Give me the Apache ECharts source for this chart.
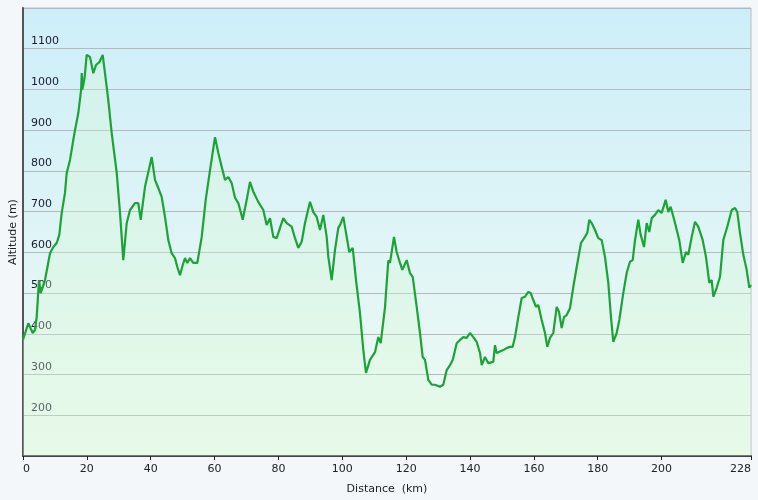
<!DOCTYPE html>
<html><head><meta charset="utf-8">
<script src="https://cdn.jsdelivr.net/npm/echarts@6/dist/echarts.min.js"></script>
<style>html,body{margin:0;padding:0;background:#f3f7fa;}#c{width:758px;height:500px;}</style>
</head><body><div id="c"></div>
<script>
const distanceKm = [0,1.66,3.04,3.76,4.29,5.01,5.54,6.89,8.46,9.49,10.55,11.37,12.12,13.15,13.69,14.72,15.75,16.29,17.32,18.2,18.4,18.6,19.3,19.95,20.98,22.02,22.86,23.9,24.96,25.68,26.71,27.78,29.35,30.38,31.41,32.48,33.51,35.08,36.11,36.86,38.21,40.31,41.34,42.37,43.44,44.47,45.51,46.57,47.6,48.32,49.17,50.02,50.74,51.46,52.3,53.33,54.59,55.97,57.22,58.57,60.13,61.17,62.23,63.26,64.3,65.36,66.4,67.43,68.81,70.06,71.09,72.13,73.69,75.26,76.32,77.36,78.39,79.45,80.49,81.52,82.59,84.15,85.19,86.22,87.28,88.32,89.88,90.92,91.98,93.02,94.05,95.11,95.62,96.68,97.71,98.75,99.28,100.31,101.38,102.19,103.26,104.29,105.54,106.58,107.42,108.67,110.24,111.27,112.03,113.37,114.4,114.94,116.19,117.03,118.07,118.79,120.17,121.2,122.05,123.3,124.33,125.18,125.9,126.94,128.0,129.03,130.6,131.63,132.7,133.73,134.58,135.83,136.86,137.9,138.96,139.99,141.03,142.09,143.13,143.66,144.69,145.73,147.29,147.82,148.35,150.42,151.49,152.52,153.36,154.09,155.12,156.18,157.22,158.25,159.0,159.82,160.66,161.38,162.45,163.48,164.2,165.05,166.08,166.61,167.15,167.87,168.71,169.43,170.28,171.31,172.35,173.41,174.76,176.01,176.73,177.36,178.11,179.14,180.18,181.24,182.27,183.31,184.15,184.87,185.94,186.75,188.0,189.07,190.1,190.95,191.67,192.7,193.45,194.49,195.33,196.15,196.9,197.93,198.97,200.03,201.28,202.1,202.85,204.2,205.54,206.61,207.64,208.36,209.43,210.46,211.49,212.87,213.9,214.94,215.69,216.19,217.26,218.29,219.32,220.57,221.95,222.99,223.71,224.55,225.59,226.65,227.47,228];
const altitudeM = [385,426,402,410,441,532,500,532,598,613,623,643,697,746,795,827,876,900,942,999,1040,1000,1030,1085,1080,1040,1060,1067,1085,1040,974,893,795,697,581,672,704,721,721,680,761,834,778,758,736,687,630,598,586,564,544,569,586,574,586,574,574,638,729,802,883,844,810,778,785,770,734,721,680,729,773,749,724,704,667,684,638,635,660,684,672,663,635,611,626,672,724,699,687,655,692,638,589,532,606,660,667,687,638,601,611,532,451,360,304,336,355,392,377,465,580,574,638,601,574,557,581,549,540,466,402,343,336,287,275,275,270,275,311,323,336,377,385,392,390,402,392,380,353,323,343,328,331,372,353,360,365,368,368,392,441,488,491,503,500,483,466,471,434,402,368,390,402,434,466,454,414,441,446,463,515,564,623,638,648,680,672,655,635,630,589,525,441,380,402,434,500,550,577,581,630,680,643,613,672,650,684,692,704,697,729,699,712,672,630,574,601,594,638,675,663,630,589,525,532,491,513,540,630,663,704,709,699,648,594,557,513,520];
const xTickLabels = [0,20,40,60,80,100,120,140,160,180,200,228];
const yTickLabels = [200,300,400,500,600,700,800,900,1000,1100];

const points = distanceKm.map((d,i)=>[d, altitudeM[i]]);
const chart = echarts.init(document.getElementById('c'));
const font = 'DejaVu Sans, Verdana, sans-serif';
chart.setOption({
  animation:false,
  backgroundColor:'#f3f7fa',
  grid:{left:23,right:7,top:8,bottom:44,outerBoundsMode:'none',containLabel:false,show:true,borderColor:'#b8bec4',borderWidth:1,
    backgroundColor:new echarts.graphic.LinearGradient(0,0,0,1,[{offset:0,color:'#cdeef9'},{offset:0.55,color:'#e0f5f6'},{offset:1,color:'#f0fbf2'}])},
  xAxis:{type:'value',min:0,max:228,
    name:'Distance  (km)',nameLocation:'middle',nameGap:28,
    nameTextStyle:{fontFamily:font,fontSize:11,color:'#222'},
    axisLine:{show:true,lineStyle:{color:'#444',width:2}},
    axisTick:{show:true,length:4,lineStyle:{color:'#222'},customValues:xTickLabels},
    axisLabel:{fontFamily:font,fontSize:11,color:'#222',margin:8,customValues:xTickLabels,alignMinLabel:'left',alignMaxLabel:'right'},
    splitLine:{show:false}},
  yAxis:{type:'value',min:100,max:1200,interval:100,
    name:'Altitude (m)',nameLocation:'middle',nameGap:4,nameRotate:90,nameMoveOverlap:false,
    nameTextStyle:{fontFamily:font,fontSize:11,color:'#222'},
    axisLine:{show:true,lineStyle:{color:'#555',width:2}},
    axisTick:{show:false},
    axisLabel:{inside:true,margin:8,align:'left',verticalAlign:'bottom',padding:[0,0,2,0],
      fontFamily:font,fontSize:11,color:'#1a1a30',
      formatter:v=>yTickLabels.indexOf(v)>=0?String(v):''},
    splitLine:{show:true,lineStyle:{color:'#b4babf',width:1}}},
  series:[{type:'line',data:points,showSymbol:false,symbol:'none',
    lineStyle:{color:'#1ca337',width:2.2},
    areaStyle:{color:'rgba(215,248,210,0.45)'}}]
});
</script></body></html>
